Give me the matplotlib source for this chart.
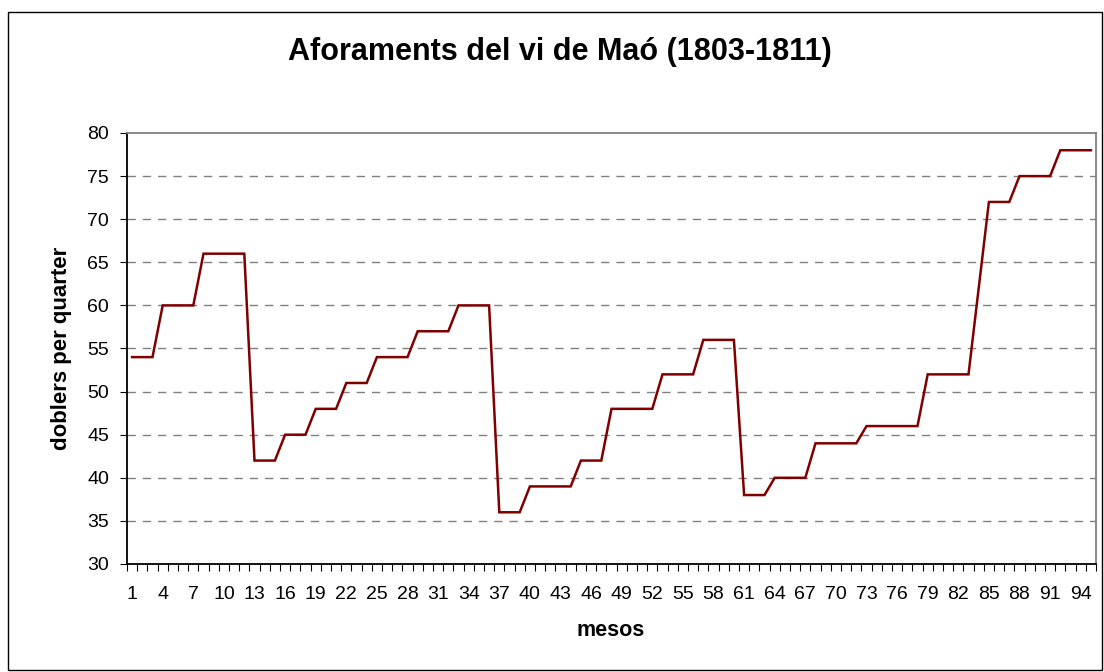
import matplotlib
matplotlib.use('Agg')
import matplotlib.pyplot as plt
from matplotlib.patches import Rectangle
from matplotlib.ticker import FixedLocator

plt.rcParams['font.family'] = ['Liberation Sans', 'DejaVu Sans']

title = 'Aforaments del vi de Maó (1803-1811)'
x_label = 'mesos'
y_label = 'doblers per quarter'

# preu del vi per mes (1..95)
mesos = list(range(1, 96))
preus = [54, 54, 54,
         60, 60, 60, 60,
         66, 66, 66, 66, 66,
         42, 42, 42,
         45, 45, 45,
         48, 48, 48,
         51, 51, 51,
         54, 54, 54, 54,
         57, 57, 57, 57,
         60, 60, 60, 60,
         36, 36, 36,
         39, 39, 39, 39, 39,
         42, 42, 42,
         48, 48, 48, 48, 48,
         52, 52, 52, 52,
         56, 56, 56, 56,
         38, 38, 38,
         40, 40, 40, 40,
         44, 44, 44, 44, 44,
         46, 46, 46, 46, 46, 46,
         52, 52, 52, 52, 52,
         62,
         72, 72, 72,
         75, 75, 75, 75,
         78, 78, 78, 78]
x_tick_labels = mesos[::3]
y_ticks = [30, 35, 40, 45, 50, 55, 60, 65, 70, 75, 80]


def main():
	fig = plt.figure(figsize=(11.04, 6.72), dpi=100)
	fig.patch.set_facecolor('white')

	# marc exterior
	fig.patches.append(Rectangle((8 / 1104, 1 - 670 / 672), 1094 / 1104, 658 / 672,
	                             transform=fig.transFigure, fill=False,
	                             edgecolor='black', linewidth=1.0))

	ax = fig.add_axes([127 / 1104, 1 - 564 / 672, 969 / 1104, 431 / 672])
	ax.plot(mesos, preus, color='#800000', linewidth=1.8, solid_joinstyle='miter')

	ax.set_xlim(0.5, 95.5)
	ax.set_ylim(30, 80)
	ax.set_yticks(y_ticks)
	ax.set_xticks(x_tick_labels)
	ax.set_xticklabels([str(v) for v in x_tick_labels])
	ax.xaxis.set_minor_locator(FixedLocator([v + 0.5 for v in range(0, 96)]))
	ax.tick_params(axis='x', which='major', length=0, pad=16, labelsize=14)
	ax.tick_params(axis='x', which='minor', length=5, width=0.8, direction='out', color='black')
	ax.tick_params(axis='y', length=5, width=0.8, direction='out', pad=8, labelsize=14)

	for v in y_ticks[1:-1]:
		ax.axhline(v, color='#808080', linewidth=1.0, linestyle=(0, (6, 5)), zorder=0)

	ax.spines['left'].set_color('black')
	ax.spines['bottom'].set_color('black')
	ax.spines['top'].set_color('#808080')
	ax.spines['right'].set_color('#808080')
	for s in ax.spines.values():
		s.set_linewidth(1.3)

	fig.text(560 / 1104, 1 - 52 / 672, title, ha='center', va='center',
	         fontsize=22, fontweight='bold')
	fig.text(611 / 1104, 1 - 631 / 672, x_label, ha='center', va='center',
	         fontsize=15.5, fontweight='bold')
	fig.text(61 / 1104, 1 - 348 / 672, y_label, ha='center', va='center',
	         rotation=90, fontsize=16, fontweight='bold')

	fig.savefig('out.png', dpi=100)


if __name__ == '__main__':
	main()
